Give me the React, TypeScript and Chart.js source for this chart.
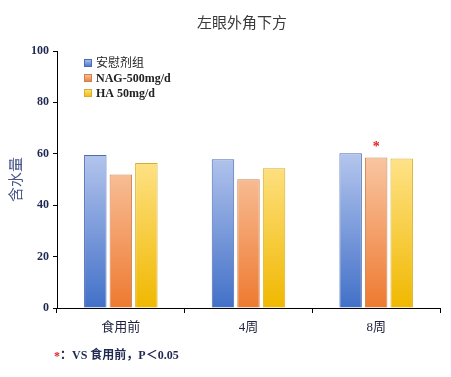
import React, { useEffect, useRef } from "react";
import { Chart, registerables } from "chart.js";

Chart.register(...registerables);

const categories = ["食用前", "4周", "8周"];
const seriesNames = ["安慰剂组", "NAG-500mg/d", "HA 50mg/d"];
const placebo = [59.5, 57.9, 60.2];
const nag = [51.9, 50.1, 58.6];
const ha = [56.4, 54.4, 58.2];
const yTicks = [0, 20, 40, 60, 80, 100];
const chartTitle = "左眼外角下方";
const yTitle = "含水量";
const footnoteStar = "*";
const footnoteText = "：VS 食用前，P＜0.05";
const significant = [{ dataset: 1, index: 2 }];

const topColors = ["#b7c8ee", "#f9caa8", "#ffe590"];
const bottomColors = ["#4270c8", "#ee7a30", "#f0b800"];
const borderColors = ["#4a6cb4", "#cc8250", "#d9ad2a"];

const SERIF = "'Liberation Serif', 'Noto Sans CJK SC', serif";
const isCJK = (s: string) => /[\u4e00-\u9fff]/.test(s);

function gradient(chart: any, i: number) {
  const area = chart.chartArea;
  if (!area) return bottomColors[i];
  const y0 = chart.scales.y.getPixelForValue(0);
  const y1 = chart.scales.y.getPixelForValue(62);
  const g = chart.ctx.createLinearGradient(0, y1, 0, y0);
  g.addColorStop(0, topColors[i]);
  g.addColorStop(1, bottomColors[i]);
  return g;
}

const decorPlugin = {
  id: "decor",
  afterDraw(chart: any) {
    const ctx = chart.ctx;
    const area = chart.chartArea;
    ctx.save();
    // title
    ctx.fillStyle = "#3a3a3a";
    ctx.font = `15px 'Noto Sans CJK SC', ${SERIF}`;
    ctx.textAlign = "center";
    ctx.textBaseline = "middle";
    ctx.fillText(chartTitle, 242, 22);
    // legend
    ctx.textAlign = "left";
    seriesNames.forEach((name, i) => {
      const y = area.top + 12 + i * 15;
      const x = area.left + 27;
      const g = ctx.createLinearGradient(0, y - 4, 0, y + 4);
      g.addColorStop(0, topColors[i]);
      g.addColorStop(1, bottomColors[i]);
      ctx.fillStyle = g;
      ctx.fillRect(x, y - 4, 8, 8);
      ctx.strokeStyle = borderColors[i];
      ctx.lineWidth = 1;
      ctx.strokeRect(x + 0.5, y - 3.5, 7, 7);
      ctx.fillStyle = "#222";
      ctx.font = isCJK(name) ? `12px ${SERIF}` : `bold 12px ${SERIF}`;
      ctx.fillText(name, x + 12, y + 1);
    });
    // significance asterisks
    ctx.fillStyle = "#e0202a";
    ctx.font = `bold 14px ${SERIF}`;
    ctx.textAlign = "center";
    significant.forEach((s) => {
      const el = chart.getDatasetMeta(s.dataset).data[s.index];
      ctx.fillText("*", el.x, el.y - 10);
    });
    // footnote
    ctx.textAlign = "left";
    ctx.font = `bold 12px ${SERIF}`;
    ctx.fillStyle = "#e0202a";
    ctx.fillText(footnoteStar, 54, 357);
    const w = ctx.measureText(footnoteStar).width;
    ctx.fillStyle = "#1e2850";
    ctx.fillText(footnoteText, 54 + w, 356);
    ctx.restore();
  },
};

export default function App() {
  const ref = useRef<HTMLCanvasElement>(null);
  useEffect(() => {
    document.body.style.margin = "0";
    const values = [placebo, nag, ha];
    const chart = new Chart(ref.current!, {
      type: "bar",
      data: {
        labels: categories,
        datasets: seriesNames.map((name, i) => ({
          label: name,
          data: values[i],
          backgroundColor: (c: any) => gradient(c.chart, i),
          borderColor: borderColors[i],
          borderWidth: 1,
          categoryPercentage: 0.6,
          barPercentage: 0.88,
        })),
      },
      options: {
        responsive: false,
        animation: false,
        devicePixelRatio: 1,
        layout: { padding: { left: 0, top: 51, right: 11, bottom: 0 } },
        plugins: {
          legend: { display: false },
          tooltip: { enabled: false },
          title: { display: false },
        },
        scales: {
          x: {
            afterFit: (s: any) => {
              s.height = 69;
            },
            grid: {
              offset: true,
              drawOnChartArea: false,
              drawTicks: true,
              tickLength: 5,
              color: "#000",
            },
            border: { display: true, color: "#000", width: 1 },
            ticks: {
              color: "#1e2240",
              padding: 7,
              font: { family: SERIF, size: 13 },
            },
          },
          y: {
            min: 0,
            max: 100,
            afterFit: (s: any) => {
              s.width = 57;
            },
            afterBuildTicks: (s: any) => {
              s.ticks = yTicks.map((v) => ({ value: v }));
            },
            grid: {
              drawOnChartArea: false,
              drawTicks: true,
              tickLength: 4,
              color: "#000",
            },
            border: { display: true, color: "#000", width: 1 },
            ticks: {
              color: "#1e2850",
              padding: 4,
              font: { family: SERIF, size: 12, weight: "bold" },
            },
            title: {
              display: true,
              text: yTitle,
              color: "#4a5888",
              padding: { top: 6, bottom: 0 },
              font: { family: `'Noto Sans CJK SC', ${SERIF}`, size: 15 },
            },
          },
        },
      },
      plugins: [decorPlugin],
    });
    return () => chart.destroy();
  }, []);
  return (
    <div style={{ width: 451, height: 377, background: "#fff" }}>
      <canvas ref={ref} width={451} height={377} />
    </div>
  );
}
